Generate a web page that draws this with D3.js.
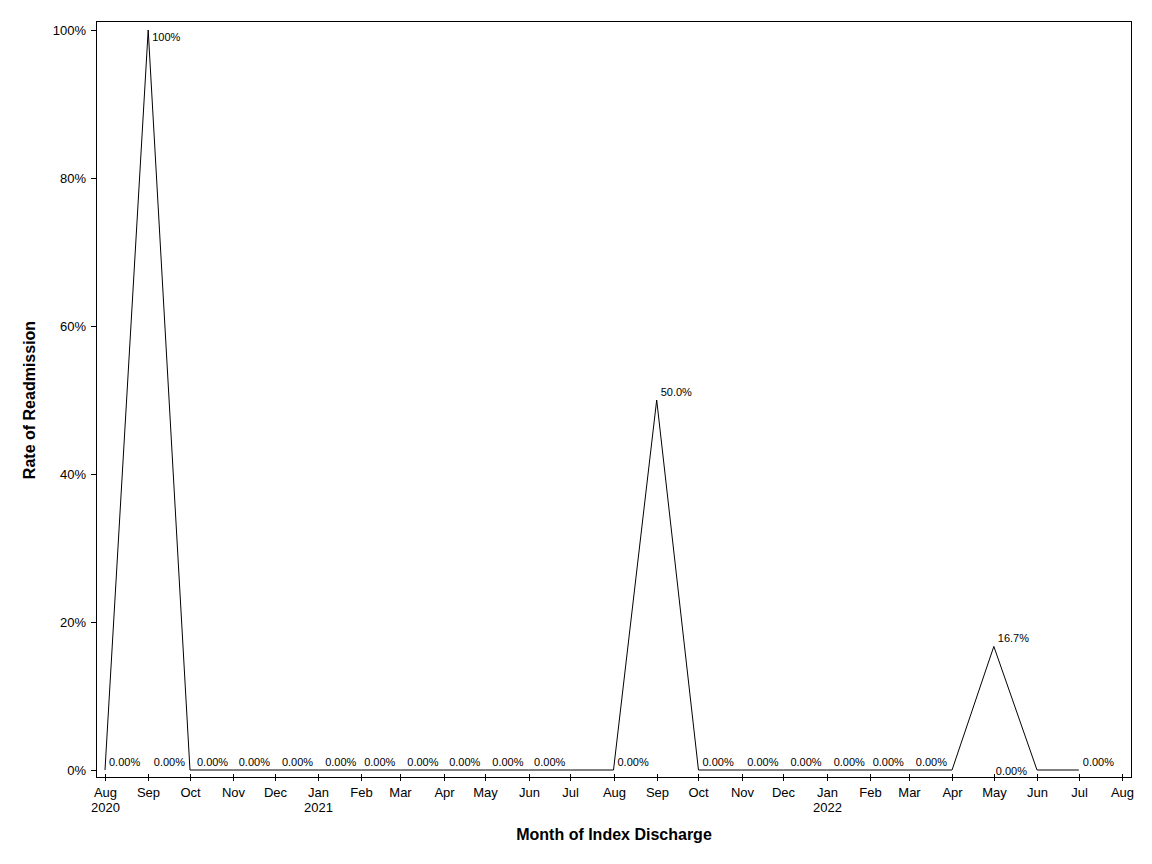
<!DOCTYPE html>
<html>
<head>
<meta charset="utf-8">
<script src="https://cdn.jsdelivr.net/npm/d3@7"></script>
<style>
  body { margin: 0; background: #fff; }
  svg { display: block; font-family: "Liberation Sans", Arial, sans-serif; }
</style>
</head>
<body>
<svg id="chart" width="1152" height="864"></svg>
<script>
// ---- Data ----
const months = [
  "2020-08","2020-09","2020-10","2020-11","2020-12","2021-01","2021-02","2021-03",
  "2021-04","2021-05","2021-06","2021-07","2021-08","2021-09","2021-10","2021-11",
  "2021-12","2022-01","2022-02","2022-03","2022-04","2022-05","2022-06","2022-07"
];
const rates = [
  0, 1.0, 0, 0, 0, 0, 0, 0,
  0, 0, 0, 0, 0, 0.5, 0, 0,
  0, 0, 0, 0, 0, 0.167, 0, 0
];
const pointLabels = [
  "0.00%","100%","0.00%","0.00%","0.00%","0.00%","0.00%","0.00%",
  "0.00%","0.00%","0.00%","0.00%","0.00%","50.0%","0.00%","",
  "0.00%","0.00%","0.00%","0.00%","0.00%","16.7%","0.00%","0.00%"
];
// label placement (style): ar=above-right, al=above-left, br=below-right, l=left
const labelPlace = [
  "ar","br","al","al","al","al","al","al",
  "al","al","al","al","ar","ar","ar","none",
  "al","al","al","al","al","ar","l","ar"
];
const yTicks = [0, 0.2, 0.4, 0.6, 0.8, 1.0];
const yTickLabels = ["0%","20%","40%","60%","80%","100%"];
const xDomain = ["2020-08","2022-08"];
const monthNames = ["Jan","Feb","Mar","Apr","May","Jun","Jul","Aug","Sep","Oct","Nov","Dec"];
const xTitle = "Month of Index Discharge";
const yTitle = "Rate of Readmission";

// ---- Layout ----
const parse = d3.timeParse("%Y-%m");
const frame = { left: 96.5, right: 1131.5, top: 21.5, bottom: 777.5 };
const svg = d3.select("#chart");

const x = d3.scaleTime().domain(xDomain.map(parse)).range([105, 1122]);
const y = d3.scaleLinear().domain([0, 1]).range([770, 30]);

// frame
svg.append("rect")
  .attr("x", frame.left).attr("y", frame.top)
  .attr("width", frame.right - frame.left).attr("height", frame.bottom - frame.top)
  .attr("fill", "none").attr("stroke", "#000").attr("stroke-width", 1);

// y axis ticks
const yAxis = svg.append("g");
yTicks.forEach((t, i) => {
  const yy = Math.round(y(t)) + 0.5;
  yAxis.append("line").attr("x1", 91).attr("x2", frame.left).attr("y1", yy).attr("y2", yy)
    .attr("stroke", "#000");
  yAxis.append("text").attr("x", 86).attr("y", yy).attr("dy", "0.35em")
    .attr("text-anchor", "end").attr("font-size", 13).attr("fill", "#000")
    .text(yTickLabels[i]);
});

// x axis ticks
const xTicks = x.ticks(d3.timeMonth.every(1));
const xAxis = svg.append("g");
xTicks.forEach(d => {
  const xx = Math.round(x(d)) + 0.5;
  xAxis.append("line").attr("x1", xx).attr("x2", xx).attr("y1", 774).attr("y2", 781)
    .attr("stroke", "#000");
  const t = xAxis.append("text").attr("x", xx).attr("y", 797)
    .attr("text-anchor", "middle").attr("font-size", 13).attr("fill", "#000");
  t.text(monthNames[d.getMonth()]);
  if (d.getMonth() === 0 || d.getTime() === x.domain()[0].getTime()) {
    xAxis.append("text").attr("x", xx).attr("y", 812)
      .attr("text-anchor", "middle").attr("font-size", 13).attr("fill", "#000")
      .text(d.getFullYear());
  }
});

// line
const pts = months.map((m, i) => ({ date: parse(m), v: rates[i], label: pointLabels[i], place: labelPlace[i] }));
const line = d3.line().x(d => x(d.date)).y(d => y(d.v));
svg.append("path").datum(pts).attr("d", line)
  .attr("fill", "none").attr("stroke", "#000").attr("stroke-width", 1);

// point labels
const lab = svg.append("g").attr("font-size", 11).attr("fill", "#000");
pts.forEach(p => {
  if (p.place === "none" || !p.label) return;
  const px = x(p.date), py = y(p.v);
  const t = lab.append("text").text(p.label);
  if (p.place === "ar") {
    t.attr("x", px + 4).attr("y", py - 4);
  } else if (p.place === "al") {
    t.attr("x", px - 5).attr("y", py - 4).attr("text-anchor", "end");
  } else if (p.place === "br") {
    t.attr("x", px + 4).attr("y", py + 11);
  } else if (p.place === "l") {
    t.attr("x", px - 10).attr("y", py + 5).attr("text-anchor", "end");
  }
});

// axis titles
svg.append("text").attr("x", 614).attr("y", 840).attr("text-anchor", "middle")
  .attr("font-size", 16).attr("font-weight", "bold").attr("fill", "#000").text(xTitle);
svg.append("text").attr("transform", "translate(35,400) rotate(-90)").attr("text-anchor", "middle")
  .attr("font-size", 16).attr("font-weight", "bold").attr("fill", "#000").text(yTitle);
</script>
</body>
</html>
